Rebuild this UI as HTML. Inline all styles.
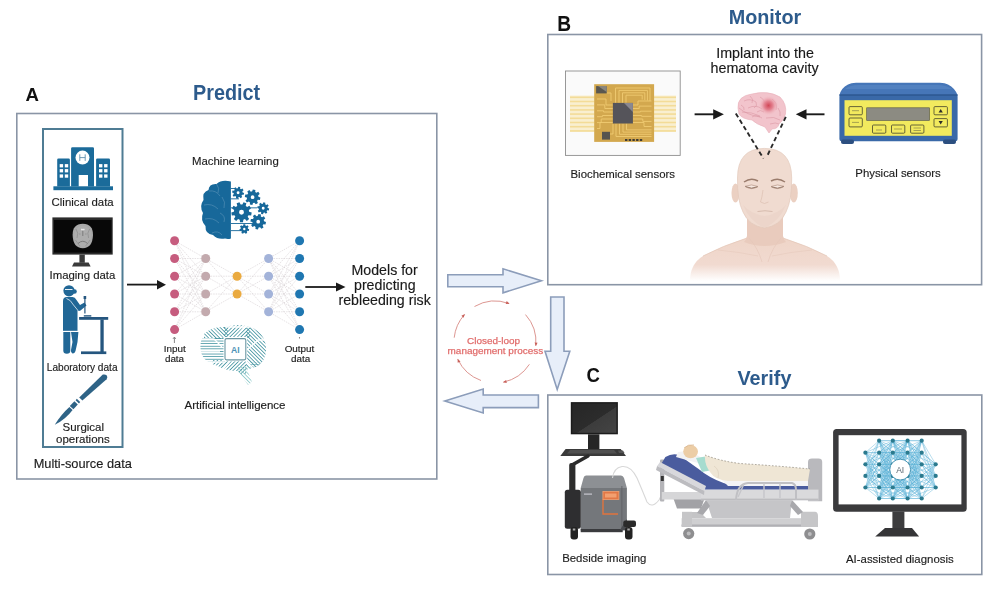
<!DOCTYPE html>
<html><head><meta charset="utf-8">
<style>
html,body{margin:0;padding:0;background:#fff;width:1000px;height:592px;overflow:hidden}
svg{display:block;filter:blur(0.3px);font-family:"Liberation Sans",sans-serif}
.lb{fill:#1c1c1c;stroke:#1c1c1c;stroke-width:0.15px;font-size:11.4px}
.tt{fill:#2d5b8c;font-weight:bold;font-size:19.8px}
.lt{fill:#111;font-weight:bold;font-size:18.6px}
</style></head><body>
<svg width="1000" height="592" viewBox="0 0 1000 592">
<!-- ===== frames ===== -->
<g fill="#fff" stroke="#8a95a6" stroke-width="1.6">
  <rect x="16.8" y="113.5" width="420" height="365.5"/>
  <rect x="547.8" y="34.5" width="433.8" height="250.2"/>
  <rect x="547.8" y="395" width="434" height="179.5"/>
</g>
<!-- inner multi-source box -->
<rect x="43" y="129" width="79.5" height="318" fill="none" stroke="#4f7c94" stroke-width="2"/>

<!-- ===== letters & titles ===== -->
<text class="lt" transform="translate(25.5 101) scale(1 1.03)">A</text>
<text class="lt" transform="translate(557.2 30.6) scale(1.03 1.14)">B</text>
<text class="lt" transform="translate(586.5 381.9) scale(1 1.11)">C</text>
<text class="tt" transform="translate(193 99.6) scale(1 1.07)">Predict</text>
<text class="tt" transform="translate(728.7 23.7) scale(1 1.05)">Monitor</text>
<text class="tt" transform="translate(737.5 384.9) scale(1 1.03)">Verify</text>

<!-- ===== labels A ===== -->
<text class="lb" x="51.6" y="206">Clinical data</text>
<text class="lb" x="49.5" y="279.1">Imaging data</text>
<text class="lb" x="46.8" y="371.2" style="font-size:10.1px">Laboratory data</text>
<text class="lb" x="62.5" y="431.3" style="font-size:11.5px">Surgical</text>
<text class="lb" x="56" y="442.5" style="font-size:11.5px">operations</text>
<text class="lb" x="33.7" y="467.6" style="font-size:12.8px">Multi-source data</text>
<text class="lb" x="192" y="165">Machine learning</text>
<text class="lb" x="184.5" y="408.7" style="font-size:11.5px">Artificial intelligence</text>
<text class="lb" x="351.5" y="275.2" style="font-size:14.2px;fill:#1a1a1a">Models for</text>
<text class="lb" x="354" y="290" style="font-size:14.2px;fill:#1a1a1a">predicting</text>
<text class="lb" x="338.5" y="304.7" style="font-size:14.2px;fill:#1a1a1a">rebleeding risk</text>
<text class="lb" x="163.7" y="351.6" style="font-size:9.9px">Input</text>
<text class="lb" x="164.9" y="362.4" style="font-size:9.9px">data</text>
<text class="lb" x="284.7" y="351.6" style="font-size:9.9px">Output</text>
<text class="lb" x="291" y="362.2" style="font-size:9.9px">data</text>

<!-- ===== labels B ===== -->
<text class="lb" x="570.5" y="178">Biochemical sensors</text>
<text class="lb" x="855.3" y="177.4">Physical sensors</text>
<text class="lb" x="716.2" y="57.8" style="font-size:14.3px;fill:#1a1a1a">Implant into the</text>
<text class="lb" x="710.5" y="72.6" style="font-size:14.3px;fill:#1a1a1a">hematoma cavity</text>

<!-- ===== labels C ===== -->
<text class="lb" x="562.2" y="562">Bedside imaging</text>
<text class="lb" x="846" y="563.4">AI-assisted diagnosis</text>

<!-- closed loop text -->
<text x="467" y="344" style="font-size:9.95px;fill:#de6060;stroke:#e47a78;stroke-width:0.25">Closed-loop</text>
<text x="447.6" y="354.4" style="font-size:9.95px;fill:#de6060;stroke:#e47a78;stroke-width:0.25">management process</text>

<!-- ===== big hollow arrows ===== -->
<g fill="#e7eef9" stroke="#8c9dba" stroke-width="1.6" stroke-linejoin="miter">
  <path d="M447.8 274.8 H503 V268.8 L541.4 280.8 L503 292.8 V286.8 H447.8 Z"/>
  <path d="M550.7 297 H564 V351.3 H569.8 L557.2 389.4 L545 351.3 H550.7 Z"/>
  <path d="M538.4 395 H483.2 V389 L444.8 401 L483.2 413 V407.6 H538.4 Z"/>
</g>

<!-- ===== black arrows ===== -->
<g fill="#1a1a1a" stroke="#1a1a1a">
  <line x1="127" y1="284.6" x2="158" y2="284.6" stroke-width="1.8"/>
  <path d="M157 280 L166 284.7 L157 289.4 Z" stroke="none"/>
  <line x1="305.3" y1="287" x2="337" y2="287" stroke-width="1.8"/>
  <path d="M336 282.5 L345.5 287 L336 291.5 Z" stroke="none"/>
  <line x1="694.6" y1="114.3" x2="715" y2="114.3" stroke-width="1.9"/>
  <path d="M713.2 109.2 L723.9 114.3 L713.2 119.4 Z" stroke="none"/>
  <line x1="805" y1="114.3" x2="824.5" y2="114.3" stroke-width="1.9"/>
  <path d="M806.5 109.2 L795.8 114.3 L806.5 119.4 Z" stroke="none"/>
</g>


<!-- ===== PANEL A ICONS ===== -->
<!-- hospital -->
<g fill="#1b6b9a">
  <path d="M57.2 186.5 V159.8 Q57.2 158.5 58.5 158.5 H68.6 Q69.9 158.5 69.9 159.8 V186.5 Z"/>
  <path d="M71.1 186.5 V148.5 Q71.1 147.2 72.4 147.2 H92.7 Q94 147.2 94 148.5 V186.5 Z M78.7 186.5 H88 V175 H78.7 Z" fill-rule="evenodd"/>
  <path d="M96.1 186.5 V159.8 Q96.1 158.5 97.4 158.5 H108.7 Q110 158.5 110 159.8 V186.5 Z"/>
  <rect x="53.4" y="186.3" width="59.6" height="3.9"/>
</g>
<g fill="#fff">
  <circle cx="82.5" cy="157.6" r="7"/>
  <rect x="59.7" y="164.1" width="3.4" height="3.3"/><rect x="64.8" y="164.1" width="3.4" height="3.3"/>
  <rect x="59.7" y="169.1" width="3.4" height="3.3"/><rect x="64.8" y="169.1" width="3.4" height="3.3"/>
  <rect x="59.7" y="174.4" width="3.4" height="3.3"/><rect x="64.8" y="174.4" width="3.4" height="3.3"/>
  <rect x="99" y="164.1" width="3.4" height="3.3"/><rect x="104.1" y="164.1" width="3.4" height="3.3"/>
  <rect x="99" y="169.1" width="3.4" height="3.3"/><rect x="104.1" y="169.1" width="3.4" height="3.3"/>
  <rect x="99" y="174.4" width="3.4" height="3.3"/><rect x="104.1" y="174.4" width="3.4" height="3.3"/>
</g>
<path d="M79.8 154.3 V160.9 M85.2 154.3 V160.9 M79.8 157.6 H85.2" stroke="#5f8fae" stroke-width="0.9" fill="none"/>

<!-- imaging monitor -->
<rect x="52.4" y="217.4" width="60.3" height="37.2" fill="#2b2b2b"/>
<rect x="54" y="220" width="57.5" height="32.6" fill="#080808"/>
<path d="M79.4 254.6 H84.8 V262.8 H79.4 Z" fill="#3a3a3a"/>
<path d="M74 262.4 H88.6 L90.6 266.4 H72 Z" fill="#3a3a3a"/>
<path d="M82.8 223.8 Q93.2 224 93 235 Q92.5 248.2 82.8 248.2 Q73.1 248.2 72.6 235 Q72.4 224 82.8 223.8 Z" fill="#a8a8a8"/>
<ellipse cx="82.8" cy="236" rx="8.6" ry="10.6" fill="#b0b0b0" opacity="0.6"/>
<path d="M82.8 228 V236 M78 243.5 Q82.8 239 87.6 243.5" stroke="#6e6e6e" stroke-width="0.8" fill="none"/>
<ellipse cx="82.8" cy="229.5" rx="2" ry="1" fill="#e8e8e8"/>
<path d="M76 229 Q79 233 77 238 M89.6 229 Q86.6 233 88.6 238 M75.5 240 Q78 244 80 246 M90 240 Q87.5 244 85.5 246 M79 234 H80.5 M85 234 H86.6" stroke="#7c7c7c" stroke-width="0.5" fill="none"/>


<!-- lab person -->
<g fill="#216796">
  <circle cx="69" cy="290.8" r="5.6"/>
  <circle cx="74.6" cy="291.5" r="2.2"/>
  <path d="M63 331 V301 Q63 297 67 297 H72.5 Q75 297 76.5 300 L80 305 L84.5 302.5 L86.5 305.5 L80.5 310.5 Q78.5 311.5 77.5 310 V331 Z"/>
  <path d="M63.3 332 H70.3 V350.5 Q70.3 353.8 66.8 353.8 Q63.3 353.8 63.3 350.5 Z"/>
  <path d="M71 332 H78.4 L77.5 342 L75.5 351 Q74.8 353.8 72.5 353.4 Q70.5 352.8 71 350 L72.5 342 Z"/>
</g>
<path d="M65 289.5 H72.5" stroke="#fff" stroke-width="0.9"/>
<path d="M66.5 298.5 Q70.5 299.5 73.5 305 L78 310.5" stroke="#e6eff5" stroke-width="0.8" fill="none"/>
<path d="M63 331.3 H78" stroke="#fff" stroke-width="0.9"/>
<g fill="#25567f">
  <rect x="84.3" y="298" width="1.2" height="15.5"/>
  <rect x="83.6" y="296" width="2.6" height="3"/>
  <rect x="83.8" y="315.2" width="7.5" height="1.4"/>
  <rect x="79.1" y="317" width="29.1" height="2.8"/>
  <rect x="100.4" y="319.5" width="3.3" height="33"/>
  <rect x="81" y="351.4" width="25.3" height="2.7"/>
</g>

<!-- scalpel -->
<g fill="#2e6386" stroke="none">
  <path d="M102.8 374.6 Q105.2 373.9 106.8 375.5 Q108 377.4 106.6 379.2 L82.4 400.6 L79.2 397.6 Z"/>
  <path d="M80.2 402 L76.8 398.8 L75.6 400.2 L79 403.4 Z"/>
  <path d="M77.8 404.4 L74.4 401.2 L69.8 406 L73.4 409.2 Z"/>
  <path d="M72.6 410 L69.4 407 Q61 414.5 54.8 424.8 Q65.5 419.5 72.6 410 Z"/>
</g>

<!-- brain + gears -->
<g fill="#17689a">
  <path d="M230.9 181.6 Q222 179 216.5 184 Q209 183.5 208.5 190 Q202 192 203.5 200 Q199 206 203 213 Q200 220 205.5 226 Q205 234 213 235 Q218 240 225 238.5 Q228 239.5 230.9 238.4 Z"/>
  <rect x="231" y="198.4" width="8" height="0.9"/>
  <rect x="231" y="207.4" width="26" height="0.9"/>
  <rect x="231" y="223" width="22" height="0.9"/>
  <rect x="231" y="230.2" width="10" height="0.9"/>
  <rect x="231" y="188" width="4" height="0.9"/>
</g>
<g fill="#17689a" fill-rule="evenodd">
<path d="M242.59 192.38 L244.10 192.89 L243.71 194.82 L242.13 194.71 L241.50 195.65 L242.21 197.07 L240.57 198.17 L239.52 196.97 L238.42 197.19 L237.91 198.70 L235.98 198.31 L236.09 196.73 L235.15 196.10 L233.73 196.81 L232.63 195.17 L233.83 194.12 L233.61 193.02 L232.10 192.51 L232.49 190.58 L234.07 190.69 L234.70 189.75 L233.99 188.33 L235.63 187.23 L236.68 188.43 L237.78 188.21 L238.29 186.70 L240.22 187.09 L240.11 188.67 L241.05 189.30 L242.47 188.59 L243.57 190.23 L242.37 191.28 Z M239.54 192.70 A1.44 1.44 0 1 0 236.66 192.70 A1.44 1.44 0 1 0 239.54 192.70 Z"/>
<path d="M258.44 196.79 L260.40 197.45 L259.90 199.96 L257.83 199.81 L257.02 201.03 L257.94 202.89 L255.81 204.31 L254.45 202.75 L253.01 203.04 L252.35 205.00 L249.84 204.50 L249.99 202.43 L248.77 201.62 L246.91 202.54 L245.49 200.41 L247.05 199.05 L246.76 197.61 L244.80 196.95 L245.30 194.44 L247.37 194.59 L248.18 193.37 L247.26 191.51 L249.39 190.09 L250.75 191.65 L252.19 191.36 L252.85 189.40 L255.36 189.90 L255.21 191.97 L256.43 192.78 L258.29 191.86 L259.71 193.99 L258.15 195.35 Z M254.47 197.20 A1.87 1.87 0 1 0 250.73 197.20 A1.87 1.87 0 1 0 254.47 197.20 Z"/>
<path d="M249.13 211.72 L251.70 212.48 L251.18 215.42 L248.51 215.26 L247.66 216.74 L249.13 218.97 L246.84 220.89 L244.90 219.05 L243.30 219.64 L242.99 222.29 L240.01 222.29 L239.70 219.64 L238.10 219.05 L236.16 220.89 L233.87 218.97 L235.34 216.74 L234.49 215.26 L231.82 215.42 L231.30 212.48 L233.87 211.72 L234.16 210.04 L232.02 208.45 L233.51 205.86 L235.96 206.92 L237.27 205.83 L236.65 203.23 L239.45 202.21 L240.65 204.60 L242.35 204.60 L243.55 202.21 L246.35 203.23 L245.73 205.83 L247.04 206.92 L249.49 205.86 L250.98 208.45 L248.84 210.04 Z M243.95 212.20 A2.45 2.45 0 1 0 239.05 212.20 A2.45 2.45 0 1 0 243.95 212.20 Z"/>
<path d="M267.69 207.98 L269.20 208.49 L268.81 210.42 L267.23 210.31 L266.60 211.25 L267.31 212.67 L265.67 213.77 L264.62 212.57 L263.52 212.79 L263.01 214.30 L261.08 213.91 L261.19 212.33 L260.25 211.70 L258.83 212.41 L257.73 210.77 L258.93 209.72 L258.71 208.62 L257.20 208.11 L257.59 206.18 L259.17 206.29 L259.80 205.35 L259.09 203.93 L260.73 202.83 L261.78 204.03 L262.88 203.81 L263.39 202.30 L265.32 202.69 L265.21 204.27 L266.15 204.90 L267.57 204.19 L268.67 205.83 L267.47 206.88 Z M264.64 208.30 A1.44 1.44 0 1 0 261.76 208.30 A1.44 1.44 0 1 0 264.64 208.30 Z"/>
<path d="M264.04 221.29 L266.00 221.95 L265.50 224.46 L263.43 224.31 L262.62 225.53 L263.54 227.39 L261.41 228.81 L260.05 227.25 L258.61 227.54 L257.95 229.50 L255.44 229.00 L255.59 226.93 L254.37 226.12 L252.51 227.04 L251.09 224.91 L252.65 223.55 L252.36 222.11 L250.40 221.45 L250.90 218.94 L252.97 219.09 L253.78 217.87 L252.86 216.01 L254.99 214.59 L256.35 216.15 L257.79 215.86 L258.45 213.90 L260.96 214.40 L260.81 216.47 L262.03 217.28 L263.89 216.36 L265.31 218.49 L263.75 219.85 Z M260.07 221.70 A1.87 1.87 0 1 0 256.33 221.70 A1.87 1.87 0 1 0 260.07 221.70 Z"/>
<path d="M247.96 228.70 L249.20 229.18 L248.79 230.97 L247.47 230.86 L246.82 231.68 L247.22 232.94 L245.56 233.73 L244.83 232.64 L243.77 232.64 L243.04 233.73 L241.38 232.94 L241.78 231.68 L241.13 230.86 L239.81 230.97 L239.40 229.18 L240.64 228.70 L240.87 227.68 L239.96 226.72 L241.11 225.28 L242.25 225.95 L243.20 225.49 L243.38 224.19 L245.22 224.19 L245.40 225.49 L246.35 225.95 L247.49 225.28 L248.64 226.72 L247.73 227.68 Z M245.48 229.00 A1.18 1.18 0 1 0 243.12 229.00 A1.18 1.18 0 1 0 245.48 229.00 Z"/>
</g>
<path d="M209 191 Q216 190 220 196 M204 205 Q212 203 218 209 M205 219 Q213 217 219 223 M216.5 184 Q220 188 218 193 M212 233 Q218 230 222 235 M222 197 Q226 202 224 208 M220 213 Q226 216 224 222" stroke="#5a94b8" stroke-width="0.6" fill="none"/>


<!-- neural network -->
<path d="M174.6 240.8 L205.7 258.5 M174.6 240.8 L205.7 276.2 M174.6 240.8 L205.7 294.0 M174.6 240.8 L205.7 311.8 M174.6 258.5 L205.7 258.5 M174.6 258.5 L205.7 276.2 M174.6 258.5 L205.7 294.0 M174.6 258.5 L205.7 311.8 M174.6 276.2 L205.7 258.5 M174.6 276.2 L205.7 276.2 M174.6 276.2 L205.7 294.0 M174.6 276.2 L205.7 311.8 M174.6 294.0 L205.7 258.5 M174.6 294.0 L205.7 276.2 M174.6 294.0 L205.7 294.0 M174.6 294.0 L205.7 311.8 M174.6 311.8 L205.7 258.5 M174.6 311.8 L205.7 276.2 M174.6 311.8 L205.7 294.0 M174.6 311.8 L205.7 311.8 M174.6 329.6 L205.7 258.5 M174.6 329.6 L205.7 276.2 M174.6 329.6 L205.7 294.0 M174.6 329.6 L205.7 311.8 M205.7 258.5 L237.1 276.2 M205.7 258.5 L237.1 294.0 M205.7 276.2 L237.1 276.2 M205.7 276.2 L237.1 294.0 M205.7 294.0 L237.1 276.2 M205.7 294.0 L237.1 294.0 M205.7 311.8 L237.1 276.2 M205.7 311.8 L237.1 294.0 M237.1 276.2 L268.6 258.5 M237.1 276.2 L268.6 276.2 M237.1 276.2 L268.6 294.0 M237.1 276.2 L268.6 311.8 M237.1 294.0 L268.6 258.5 M237.1 294.0 L268.6 276.2 M237.1 294.0 L268.6 294.0 M237.1 294.0 L268.6 311.8 M268.6 258.5 L299.6 240.8 M268.6 258.5 L299.6 258.5 M268.6 258.5 L299.6 276.2 M268.6 258.5 L299.6 294.0 M268.6 258.5 L299.6 311.8 M268.6 258.5 L299.6 329.6 M268.6 276.2 L299.6 240.8 M268.6 276.2 L299.6 258.5 M268.6 276.2 L299.6 276.2 M268.6 276.2 L299.6 294.0 M268.6 276.2 L299.6 311.8 M268.6 276.2 L299.6 329.6 M268.6 294.0 L299.6 240.8 M268.6 294.0 L299.6 258.5 M268.6 294.0 L299.6 276.2 M268.6 294.0 L299.6 294.0 M268.6 294.0 L299.6 311.8 M268.6 294.0 L299.6 329.6 M268.6 311.8 L299.6 240.8 M268.6 311.8 L299.6 258.5 M268.6 311.8 L299.6 276.2 M268.6 311.8 L299.6 294.0 M268.6 311.8 L299.6 311.8 M268.6 311.8 L299.6 329.6" stroke="#d2cccf" stroke-width="0.6" stroke-dasharray="1.5 1" fill="none" opacity="0.95"/>
<circle cx="174.6" cy="240.8" r="4.5" fill="#c65c7e"/><circle cx="174.6" cy="258.5" r="4.5" fill="#c65c7e"/><circle cx="174.6" cy="276.2" r="4.5" fill="#c65c7e"/><circle cx="174.6" cy="294.0" r="4.5" fill="#c65c7e"/><circle cx="174.6" cy="311.8" r="4.5" fill="#c65c7e"/><circle cx="174.6" cy="329.6" r="4.5" fill="#c65c7e"/><circle cx="205.7" cy="258.5" r="4.5" fill="#c3aaae"/><circle cx="205.7" cy="276.2" r="4.5" fill="#c3aaae"/><circle cx="205.7" cy="294.0" r="4.5" fill="#c3aaae"/><circle cx="205.7" cy="311.8" r="4.5" fill="#c3aaae"/><circle cx="237.1" cy="276.2" r="4.5" fill="#eaaa40"/><circle cx="237.1" cy="294.0" r="4.5" fill="#eaaa40"/><circle cx="268.6" cy="258.5" r="4.5" fill="#a3b3d9"/><circle cx="268.6" cy="276.2" r="4.5" fill="#a3b3d9"/><circle cx="268.6" cy="294.0" r="4.5" fill="#a3b3d9"/><circle cx="268.6" cy="311.8" r="4.5" fill="#a3b3d9"/><circle cx="299.6" cy="240.8" r="4.5" fill="#1f77b1"/><circle cx="299.6" cy="258.5" r="4.5" fill="#1f77b1"/><circle cx="299.6" cy="276.2" r="4.5" fill="#1f77b1"/><circle cx="299.6" cy="294.0" r="4.5" fill="#1f77b1"/><circle cx="299.6" cy="311.8" r="4.5" fill="#1f77b1"/><circle cx="299.6" cy="329.6" r="4.5" fill="#1f77b1"/>
<path d="M174.4 337.5 V343" stroke="#555" stroke-width="0.7"/><path d="M172.9 339 L174.4 337 L175.9 339" stroke="#555" stroke-width="0.6" fill="none"/>
<circle cx="299.5" cy="337.8" r="0.6" fill="#444"/>


<!-- AI brain -->
<defs>
  <pattern id="pd1" width="2.6" height="2.6" patternUnits="userSpaceOnUse" patternTransform="rotate(45)">
    <rect x="0" y="0" width="2.6" height="0.8" fill="#3f919f"/>
  </pattern>
  <pattern id="pd2" width="2.6" height="2.6" patternUnits="userSpaceOnUse" patternTransform="rotate(-45)">
    <rect x="0" y="0" width="2.6" height="0.8" fill="#3f919f"/>
  </pattern>
  <pattern id="ph" width="2.6" height="2.6" patternUnits="userSpaceOnUse">
    <rect x="0" y="0" width="2.6" height="0.8" fill="#3f919f"/>
  </pattern>
  <pattern id="pd3" width="2.6" height="2.6" patternUnits="userSpaceOnUse" patternTransform="rotate(45)">
    <rect x="0" y="0" width="2.6" height="0.8" fill="#8cc9c9"/>
  </pattern>
  <clipPath id="brainclip">
    <path d="M204 334 Q212 326 226 327 Q238 323 250 327 Q262 331 265 342 Q268 352 263 361 Q258 368 247 369 L252 382 L248 385 L238 371 Q226 371 218 366 Q206 363 202 355 Q198 345 204 334 Z"/>
  </clipPath>
</defs>
<g clip-path="url(#brainclip)">
  <rect x="198" y="338" width="26" height="24" fill="url(#ph)"/>
  <rect x="204" y="325" width="24" height="14" fill="url(#pd1)"/>
  <rect x="224" y="322" width="26" height="16" fill="url(#pd2)"/>
  <rect x="246" y="326" width="22" height="44" fill="url(#pd1)"/>
  <rect x="212" y="360" width="34" height="14" fill="url(#pd2)"/>
  <rect x="238" y="366" width="16" height="20" fill="url(#pd3)"/>
  <rect x="250" y="362" width="16" height="8" fill="url(#ph)" opacity="0.6"/>
</g>
<path d="M200 339 H214 L222 347 M204 362 H224 M222 338 L210 326 M236 337 L246 325 M247 350 L258 340 H268 M230 361 L220 373 M246 361 L254 369 H268 M226 327 H250 M200 351 H220" stroke="#fff" stroke-width="1.3" fill="none"/>
<rect x="223.5" y="337" width="23.7" height="24.4" fill="#fff"/>
<rect x="225" y="338.6" width="20.8" height="21.3" rx="1.6" fill="#fff" stroke="#6a96a2" stroke-width="1.1"/>
<text x="235.4" y="353" text-anchor="middle" style="font-size:8.6px;font-weight:bold;fill:#4d93b8">AI</text>


<!-- biochemical sensor chip -->
<rect x="565.5" y="71" width="114.7" height="84.4" fill="#fafafa" stroke="#8e8e8e" stroke-width="0.9"/>
<rect x="570" y="95.5" width="106" height="36.5" fill="#f9efd0"/>
<rect x="570" y="96.5" width="24.5" height="1.6" fill="#f3dc98"/><rect x="654" y="96.5" width="22" height="1.6" fill="#f3dc98"/><rect x="570" y="100.7" width="24.5" height="1.6" fill="#f3dc98"/><rect x="654" y="100.7" width="22" height="1.6" fill="#f3dc98"/><rect x="570" y="104.9" width="24.5" height="1.6" fill="#f3dc98"/><rect x="654" y="104.9" width="22" height="1.6" fill="#f3dc98"/><rect x="570" y="109.1" width="24.5" height="1.6" fill="#f3dc98"/><rect x="654" y="109.1" width="22" height="1.6" fill="#f3dc98"/><rect x="570" y="113.3" width="24.5" height="1.6" fill="#f3dc98"/><rect x="654" y="113.3" width="22" height="1.6" fill="#f3dc98"/><rect x="570" y="117.5" width="24.5" height="1.6" fill="#f3dc98"/><rect x="654" y="117.5" width="22" height="1.6" fill="#f3dc98"/><rect x="570" y="121.7" width="24.5" height="1.6" fill="#f3dc98"/><rect x="654" y="121.7" width="22" height="1.6" fill="#f3dc98"/><rect x="570" y="125.9" width="24.5" height="1.6" fill="#f3dc98"/><rect x="654" y="125.9" width="22" height="1.6" fill="#f3dc98"/><rect x="570" y="130.1" width="24.5" height="1.6" fill="#f3dc98"/><rect x="654" y="130.1" width="22" height="1.6" fill="#f3dc98"/>
<rect x="594.2" y="84.2" width="59.9" height="57.7" fill="#d3a84e"/>
<path d="M612.9 105 H606.0 V99.0 H597 M612.9 108.5 H604.8 V104.9 H597 M612.9 112 H603.6 V110.8 H597 M612.9 115.5 H602.4 V116.7 H597 M612.9 119 H601.2 V122.6 H597 M612.9 122.5 H600.0 V128.5 H597 M632.9 105 H638.0 V101.0 H651.5 M632.9 108.5 H639.2 V106.1 H651.5 M632.9 112 H640.4 V111.2 H651.5 M632.9 115.5 H641.6 V116.3 H651.5 M632.9 119 H642.8 V121.4 H651.5 M632.9 122.5 H644.0 V126.5 H651.5 M615.5 102.9 V88.0 H650.0 V101.0 M619 102.9 V90.4 H647.4 V100.5 M622.5 102.9 V92.8 H644.8 V100.0 M626 102.9 V95.2 H642.2 V99.5 M616 123.5 V136.5 H651.5 M619.5 123.5 V134.3 H651.5 M623 123.5 V132.1 H651.5 M626.5 123.5 V129.9 H651.5 M606.7 93 H611 V101 M610 134 H613 V124" stroke="#efcb72" stroke-width="0.9" fill="none"/>
<rect x="612.9" y="102.9" width="20" height="20.6" fill="#55545a"/>
<path d="M624 102.9 H632.9 V112 Z" fill="#8a8890"/>
<rect x="596.1" y="86.1" width="10.6" height="7.3" fill="#5a5750"/>
<path d="M598 86.1 H606.7 V92 Z" fill="#8a867c"/>
<rect x="602" y="131.8" width="8" height="7.8" fill="#55534f"/>
<g fill="#3e3a34"><rect x="625" y="139" width="2.4" height="2"/><rect x="628.7" y="139" width="2.4" height="2"/><rect x="632.4" y="139" width="2.4" height="2"/><rect x="636.1" y="139" width="2.4" height="2"/><rect x="639.8" y="139" width="2.4" height="2"/></g>


<!-- head & body -->
<defs>
  <linearGradient id="bodyfade" x1="0" y1="0" x2="0" y2="1">
    <stop offset="0" stop-color="#efd5c8"/>
    <stop offset="0.62" stop-color="#f1dad0"/>
    <stop offset="1" stop-color="#ffffff"/>
  </linearGradient>
  <radialGradient id="hematoma" cx="0.5" cy="0.5" r="0.5">
    <stop offset="0" stop-color="#d24858"/>
    <stop offset="0.45" stop-color="#e48593"/>
    <stop offset="1" stop-color="#f2c0c8" stop-opacity="0"/>
  </radialGradient>
</defs>
<path d="M690 281 Q690 264 703 256 Q722 246 747 238 L783 238 Q808 246 827 256 Q840 264 840 281 Z" fill="url(#bodyfade)"/>
<path d="M703 256 Q722 246 747 238 M783 238 Q808 246 827 256" stroke="#e3c4b5" stroke-width="0.7" fill="none"/>
<path d="M718 250 Q740 252 758 256 M772 256 Q790 252 812 250" stroke="#e6cabc" stroke-width="0.6" fill="none"/>
<path d="M747 212 V236 Q746 240 744 242 Q764 250 786 242 Q784 240 783 236 V212 Z" fill="#e9cbbd"/>
<path d="M749 238 Q758 248 762 262 M781 238 Q772 248 768 262" stroke="#e4c6b8" stroke-width="0.6" fill="none"/>
<ellipse cx="735.5" cy="193" rx="4" ry="9.5" fill="#ebd0c2"/>
<ellipse cx="793.8" cy="193" rx="4" ry="9.5" fill="#ebd0c2"/>
<path d="M764.5 148.4 Q791.5 148.4 791.7 178 Q792 200 786 212 Q780 226 764.5 228 Q749 226 743 212 Q737 200 737.5 178 Q737.6 148.4 764.5 148.4 Z" fill="#f0dbd0" stroke="#e3c8ba" stroke-width="0.7"/>
<path d="M744 182 Q751 177 758 181 M771 181 Q778 177 785 182" stroke="#9a7c6c" stroke-width="1.5" fill="none"/>
<path d="M745 186.3 Q751.5 183.5 758 186.5 Q751.5 190.8 745 186.3 Z M771 186.5 Q777.5 183.5 784 186.3 Q777.5 190.8 771 186.5 Z" fill="#f6e8e0" stroke="#b49484" stroke-width="0.7"/>
<path d="M745.5 186.6 Q751.5 189.6 757.5 186.8 M771.5 186.8 Q777.5 189.6 783.5 186.6" stroke="#8e7262" stroke-width="0.9" fill="none"/>
<path d="M743 205 Q750 222 764.5 228 Q779 222 786 205 Q778 214 764.5 216 Q751 214 743 205 Z" fill="#ead3c7" opacity="0.7"/>
<path d="M763 190 Q762 198 760.5 202 Q764.5 205 768.5 202" stroke="#dcc0b2" stroke-width="0.7" fill="none"/>
<path d="M757.5 211.5 Q765 210 772.5 211.5" stroke="#cfb2a4" stroke-width="0.8" fill="none"/>

<!-- pink brain -->
<path d="M738 108 Q737 96 752 94 Q768 90 780 97 Q787 104 785.5 114 Q784 120 779 124 Q778 129 772 129 L769 133 L765 127 Q756 124 752 120 Q742 119 739 114 Z" fill="#f2c4cc" stroke="#e8aeb9" stroke-width="0.6"/>
<path d="M744 101 Q750 98 756 102 Q758 106 754 108 M748 108 Q756 104 762 109 M742 112 Q752 112 760 116 M760 97 Q766 100 764 106 M772 99 Q778 103 776 110 M766 118 Q774 116 780 120 M770 124 Q776 122 779 124 M741 105 Q745 107 744 110 M750 96 Q754 99 752 103 M757 112 Q760 109 764 112 M778 108 Q781 112 780 116 M752 117 Q756 114 762 118 M739 108 Q747 115 760 117" stroke="#d993a0" stroke-width="0.55" fill="none"/>
<circle cx="768.5" cy="105.5" r="10" fill="url(#hematoma)"/>
<!-- dashed lines -->
<path d="M735.8 113.4 L763.5 158.6 M785.8 116.8 L766.9 156.6" stroke="#2a2a2a" stroke-width="1.9" stroke-dasharray="4.5 3" fill="none"/>


<!-- physical sensor device -->
<path d="M839.4 95.3 Q841 88 848 84.5 Q851 82.8 856 82.8 H940 Q945 82.8 948 84.5 Q955 88 957.6 95.3 Z" fill="#4676b8"/>
<path d="M845 89 Q850 85 858 85 H938 Q946 85 952 89 Z" fill="#5a88c4" opacity="0.6"/>
<rect x="839.4" y="94.3" width="118.2" height="47" rx="2.5" fill="#3a69a8"/>
<rect x="839.4" y="94.3" width="118.2" height="1.6" fill="#2f5a94"/>
<rect x="841" y="139.5" width="13" height="4.5" rx="2" fill="#2c4f80"/>
<rect x="943" y="139.5" width="13" height="4.5" rx="2" fill="#2c4f80"/>
<rect x="844.5" y="100.2" width="107.3" height="35.6" fill="#f2ea5e"/>
<rect x="866.7" y="107.8" width="62.9" height="12.7" fill="#8c8b82" stroke="#55554a" stroke-width="0.6"/>
<g fill="none" stroke="#3a3a2a" stroke-width="0.75">
  <rect x="849" y="106.6" width="13.3" height="8.2" rx="1"/>
  <rect x="849" y="118" width="13.3" height="8.9" rx="1"/>
  <rect x="934" y="106.6" width="13.4" height="8.2" rx="1"/>
  <rect x="934" y="118.6" width="13.4" height="8.3" rx="1"/>
  <rect x="872.5" y="125" width="13.3" height="8.2" rx="1"/>
  <rect x="891.5" y="125" width="13.3" height="8.2" rx="1"/>
  <rect x="910.6" y="125" width="13.3" height="8.2" rx="1"/>
</g>
<g fill="#2a2a2a">
  <path d="M938.6 112.4 L940.7 109 L942.8 112.4 Z"/>
  <path d="M938.6 121 L940.7 124.4 L942.8 121 Z"/>
</g>
<path d="M852 110.7 H859 M852 122.4 H859 M876 130 H882 M894 129 H902 M913.5 128 H921 M913.5 130.5 H921" stroke="#5a5a40" stroke-width="0.5"/>


<!-- bedside imaging cart -->
<defs>
  <linearGradient id="monsheen" x1="0" y1="0" x2="1" y2="1">
    <stop offset="0" stop-color="#262626"/>
    <stop offset="0.55" stop-color="#2c2c2c"/>
    <stop offset="0.56" stop-color="#3c3c3c"/>
    <stop offset="1" stop-color="#444"/>
  </linearGradient>
</defs>
<rect x="570.8" y="402.1" width="47.1" height="32.2" fill="#1c1c1c"/>
<rect x="572.3" y="403.6" width="44.1" height="29.2" fill="url(#monsheen)"/>
<rect x="588" y="434.3" width="11.4" height="15" fill="#262626"/>
<path d="M565.6 448.9 H620.7 L626 456 H560.3 Z" fill="#3a3a3a"/>
<path d="M570 450 H614 L617 453.5 H567 Z" fill="#505050"/>
<path d="M618 450.5 H623 L624.5 453 H619 Z" fill="#555"/>
<path d="M588 456 L572 465" stroke="#2a2a2a" stroke-width="3.5" stroke-linecap="round"/>
<rect x="569.2" y="463" width="6.2" height="30" rx="2" fill="#2c2c2c"/>
<path d="M586 475.5 H621 Q623 475.5 624 478 L626.9 488 H580.7 L583.5 478 Q584 475.5 586 475.5 Z" fill="#8d9094"/>
<rect x="580.7" y="488" width="46.2" height="42.5" fill="#74777b"/>
<rect x="621.5" y="486" width="0.8" height="44" fill="#5c5f63"/>
<rect x="564.8" y="489.7" width="16" height="39.1" rx="2.5" fill="#2e2e30"/>
<rect x="584" y="493.5" width="8" height="1.2" fill="#c8c8d0"/>
<path d="M603 499 V514 H618" stroke="#e0743e" stroke-width="1.4" fill="none"/>
<rect x="602.9" y="491.5" width="16" height="8" fill="#e27846" stroke="#f0a070" stroke-width="0.8"/>
<rect x="605" y="493.5" width="11.5" height="4" fill="#f2a070"/>
<rect x="580.7" y="529" width="42" height="3.2" fill="#3a3b3e"/>
<path d="M626.9 519 L620 530 H626.9 Z" fill="#4a4c50"/>
<rect x="570.5" y="527" width="7.5" height="12.6" rx="3" fill="#222"/>
<rect x="625" y="527" width="7.5" height="12.6" rx="3" fill="#222"/>
<rect x="572.8" y="528.5" width="2.5" height="2" fill="#aaa"/>
<rect x="627.3" y="528.5" width="2.5" height="2" fill="#aaa"/>
<rect x="623.3" y="520.5" width="12.7" height="6.5" rx="2" fill="#2a2a2a"/>
<path d="M612.5 478 Q613.5 468 622 466.5 Q631 465.5 637 478 Q643 492 647 502 Q652 509 659 500 L663 492" stroke="#d8d8d8" stroke-width="1.1" fill="none"/>


<!-- hospital bed -->
<g>
  <!-- lower frame -->
  <path d="M688 512 H700 L706 518 H682 Z" fill="#c4c4c6"/>
  <rect x="681.6" y="518.2" width="124.6" height="8.4" fill="#cfcfd1"/>
  <rect x="681.6" y="524.5" width="124.6" height="2.2" fill="#b0b0b4"/>
  <path d="M801 511.8 H815 Q818 512 818 516 V526.9 H801 Z" fill="#c6c6c8"/>
  <path d="M682 511.8 H692 V526.9 H682 Z" fill="#c6c6c8"/>
  <circle cx="688.7" cy="533.6" r="5.6" fill="#8e8e90"/><circle cx="688.7" cy="533.6" r="2" fill="#bdbdbf"/>
  <circle cx="809.8" cy="534" r="5.6" fill="#8e8e90"/><circle cx="809.8" cy="534" r="2" fill="#bdbdbf"/>
  <!-- base block -->
  <path d="M706 500 H792 L790 518 H712 Z" fill="#c5c5c8"/>
  <path d="M792 500 L803 512 L798 515 L790 506 Z" fill="#a8a8ac"/>
  <path d="M706 500 L697 513 L703 515 L710 506 Z" fill="#a8a8ac"/>
  <!-- under backrest cover -->
  <path d="M673.6 499 H704.4 L701 508.6 H677 Z" fill="#a2a2a6"/>
  <!-- headboard & footboard posts -->
  <rect x="660" y="459.5" width="4.3" height="42" rx="1" fill="#b4b4b8"/>
  <rect x="660.8" y="476" width="3" height="5" fill="#333"/>
  <path d="M808 462 Q808 458.6 812 458.6 H818.5 Q822.2 458.6 822.2 462 V501.2 H808 Z" fill="#b9b9bd"/>
  <!-- horizontal frame -->
  <rect x="661.8" y="492" width="56" height="7.5" fill="#d6d6d8"/>
  <rect x="700.9" y="489.6" width="117.6" height="10.7" fill="#dadadc"/>
  <rect x="700.9" y="498.6" width="117.6" height="1.6" fill="#bdbdc0"/>
  <!-- blue mattress -->
  <path d="M665.4 457.1 Q672 453 679 455 L700 470 Q712 480 730 485 L808 485.5 V489.6 H705 L660 466 Z" fill="#4a5c9e"/>
  <!-- backrest frame -->
  <path d="M657.1 466 L660 462 L706 486 L704.4 491 Z" fill="#d8d8dc"/>
  <path d="M657.1 466 L704.4 491 L704 495 L656 470 Z" fill="#bcbcc0"/>
  <!-- patient -->
  <path d="M678 452 Q690 450 702 458 L698 463 Q686 460 676 457 Z" fill="#f2f2f4"/>
  <ellipse cx="690.6" cy="451.6" rx="7.4" ry="6.6" fill="#eccda6"/>
  <path d="M684 448 Q688 444 694 445" stroke="#d8b48c" stroke-width="0.8" fill="none"/>
  <path d="M696 458 L708 456 L712 470 L702 472 Z" fill="#a6dccf"/>
  <path d="M722 480 H808 V486 H728 Z" fill="#f4f4f6"/>
  <path d="M705 455 Q720 461 740 463.5 Q780 466 810 469 L808 481 H728 Q715 480 710 472 Q704 464 705 455 Z" fill="#efe6d5"/>
  <path d="M705 455 Q720 461 740 463.5 Q780 466 810 469" stroke="#857f74" stroke-width="0.7" stroke-dasharray="1.6 1.8" fill="none"/>
  <path d="M714 466 Q720 470 718 478" stroke="#d8ccb8" stroke-width="0.6" fill="none"/>
  <!-- side rail -->
  <path d="M736 500 Q737 484 748 483 H792 Q796 484 796 490 V500" stroke="#c0c0c4" stroke-width="2" fill="none"/>
  <path d="M744 484 L738 497 M764 483 V498 M780 483 V498" stroke="#c6c6ca" stroke-width="1.4" fill="none"/>
</g>


<!-- AI monitor -->
<rect x="833.1" y="428.9" width="133.6" height="82.9" rx="3.5" fill="#3a3a3c"/>
<rect x="838.6" y="435.2" width="122.8" height="69.2" fill="#fff"/>
<rect x="892.4" y="511.5" width="12" height="17" fill="#3c3c3e"/>
<path d="M885 528 H912 L919.1 536.4 H875.2 Z" fill="#353537"/>
<path d="M865.4 452.7 L879.1 440.7 M865.4 452.7 L879.1 452.7 M865.4 452.7 L879.1 464.3 M865.4 452.7 L879.1 475.9 M865.4 452.7 L879.1 487.5 M865.4 452.7 L879.1 498.5 M865.4 464.3 L879.1 440.7 M865.4 464.3 L879.1 452.7 M865.4 464.3 L879.1 464.3 M865.4 464.3 L879.1 475.9 M865.4 464.3 L879.1 487.5 M865.4 464.3 L879.1 498.5 M865.4 475.9 L879.1 440.7 M865.4 475.9 L879.1 452.7 M865.4 475.9 L879.1 464.3 M865.4 475.9 L879.1 475.9 M865.4 475.9 L879.1 487.5 M865.4 475.9 L879.1 498.5 M865.4 487.5 L879.1 440.7 M865.4 487.5 L879.1 452.7 M865.4 487.5 L879.1 464.3 M865.4 487.5 L879.1 475.9 M865.4 487.5 L879.1 487.5 M865.4 487.5 L879.1 498.5 M879.1 440.7 L892.8 440.7 M879.1 440.7 L892.8 452.7 M879.1 440.7 L892.8 464.3 M879.1 440.7 L892.8 475.9 M879.1 440.7 L892.8 487.5 M879.1 440.7 L892.8 498.5 M879.1 452.7 L892.8 440.7 M879.1 452.7 L892.8 452.7 M879.1 452.7 L892.8 464.3 M879.1 452.7 L892.8 475.9 M879.1 452.7 L892.8 487.5 M879.1 452.7 L892.8 498.5 M879.1 464.3 L892.8 440.7 M879.1 464.3 L892.8 452.7 M879.1 464.3 L892.8 464.3 M879.1 464.3 L892.8 475.9 M879.1 464.3 L892.8 487.5 M879.1 464.3 L892.8 498.5 M879.1 475.9 L892.8 440.7 M879.1 475.9 L892.8 452.7 M879.1 475.9 L892.8 464.3 M879.1 475.9 L892.8 475.9 M879.1 475.9 L892.8 487.5 M879.1 475.9 L892.8 498.5 M879.1 487.5 L892.8 440.7 M879.1 487.5 L892.8 452.7 M879.1 487.5 L892.8 464.3 M879.1 487.5 L892.8 475.9 M879.1 487.5 L892.8 487.5 M879.1 487.5 L892.8 498.5 M879.1 498.5 L892.8 440.7 M879.1 498.5 L892.8 452.7 M879.1 498.5 L892.8 464.3 M879.1 498.5 L892.8 475.9 M879.1 498.5 L892.8 487.5 M879.1 498.5 L892.8 498.5 M892.8 440.7 L907.6 440.7 M892.8 440.7 L907.6 452.7 M892.8 440.7 L907.6 464.3 M892.8 440.7 L907.6 475.9 M892.8 440.7 L907.6 487.5 M892.8 440.7 L907.6 498.5 M892.8 452.7 L907.6 440.7 M892.8 452.7 L907.6 452.7 M892.8 452.7 L907.6 464.3 M892.8 452.7 L907.6 475.9 M892.8 452.7 L907.6 487.5 M892.8 452.7 L907.6 498.5 M892.8 464.3 L907.6 440.7 M892.8 464.3 L907.6 452.7 M892.8 464.3 L907.6 464.3 M892.8 464.3 L907.6 475.9 M892.8 464.3 L907.6 487.5 M892.8 464.3 L907.6 498.5 M892.8 475.9 L907.6 440.7 M892.8 475.9 L907.6 452.7 M892.8 475.9 L907.6 464.3 M892.8 475.9 L907.6 475.9 M892.8 475.9 L907.6 487.5 M892.8 475.9 L907.6 498.5 M892.8 487.5 L907.6 440.7 M892.8 487.5 L907.6 452.7 M892.8 487.5 L907.6 464.3 M892.8 487.5 L907.6 475.9 M892.8 487.5 L907.6 487.5 M892.8 487.5 L907.6 498.5 M892.8 498.5 L907.6 440.7 M892.8 498.5 L907.6 452.7 M892.8 498.5 L907.6 464.3 M892.8 498.5 L907.6 475.9 M892.8 498.5 L907.6 487.5 M892.8 498.5 L907.6 498.5 M907.6 440.7 L921.7 440.7 M907.6 440.7 L921.7 452.7 M907.6 440.7 L921.7 464.3 M907.6 440.7 L921.7 475.9 M907.6 440.7 L921.7 487.5 M907.6 440.7 L921.7 498.5 M907.6 452.7 L921.7 440.7 M907.6 452.7 L921.7 452.7 M907.6 452.7 L921.7 464.3 M907.6 452.7 L921.7 475.9 M907.6 452.7 L921.7 487.5 M907.6 452.7 L921.7 498.5 M907.6 464.3 L921.7 440.7 M907.6 464.3 L921.7 452.7 M907.6 464.3 L921.7 464.3 M907.6 464.3 L921.7 475.9 M907.6 464.3 L921.7 487.5 M907.6 464.3 L921.7 498.5 M907.6 475.9 L921.7 440.7 M907.6 475.9 L921.7 452.7 M907.6 475.9 L921.7 464.3 M907.6 475.9 L921.7 475.9 M907.6 475.9 L921.7 487.5 M907.6 475.9 L921.7 498.5 M907.6 487.5 L921.7 440.7 M907.6 487.5 L921.7 452.7 M907.6 487.5 L921.7 464.3 M907.6 487.5 L921.7 475.9 M907.6 487.5 L921.7 487.5 M907.6 487.5 L921.7 498.5 M907.6 498.5 L921.7 440.7 M907.6 498.5 L921.7 452.7 M907.6 498.5 L921.7 464.3 M907.6 498.5 L921.7 475.9 M907.6 498.5 L921.7 487.5 M907.6 498.5 L921.7 498.5 M921.7 440.7 L935.7 464.3 M921.7 440.7 L935.7 475.9 M921.7 440.7 L935.7 487.5 M921.7 452.7 L935.7 464.3 M921.7 452.7 L935.7 475.9 M921.7 452.7 L935.7 487.5 M921.7 464.3 L935.7 464.3 M921.7 464.3 L935.7 475.9 M921.7 464.3 L935.7 487.5 M921.7 475.9 L935.7 464.3 M921.7 475.9 L935.7 475.9 M921.7 475.9 L935.7 487.5 M921.7 487.5 L935.7 464.3 M921.7 487.5 L935.7 475.9 M921.7 487.5 L935.7 487.5 M921.7 498.5 L935.7 464.3 M921.7 498.5 L935.7 475.9 M921.7 498.5 L935.7 487.5 M865.4 452.7 L892.8 440.7 M865.4 452.7 L892.8 452.7 M865.4 452.7 L892.8 464.3 M865.4 452.7 L892.8 475.9 M865.4 452.7 L892.8 487.5 M865.4 452.7 L892.8 498.5 M865.4 464.3 L892.8 440.7 M865.4 464.3 L892.8 452.7 M865.4 464.3 L892.8 464.3 M865.4 464.3 L892.8 475.9 M865.4 464.3 L892.8 487.5 M865.4 464.3 L892.8 498.5 M865.4 475.9 L892.8 440.7 M865.4 475.9 L892.8 452.7 M865.4 475.9 L892.8 464.3 M865.4 475.9 L892.8 475.9 M865.4 475.9 L892.8 487.5 M865.4 475.9 L892.8 498.5 M865.4 487.5 L892.8 440.7 M865.4 487.5 L892.8 452.7 M865.4 487.5 L892.8 464.3 M865.4 487.5 L892.8 475.9 M865.4 487.5 L892.8 487.5 M865.4 487.5 L892.8 498.5 M879.1 440.7 L907.6 440.7 M879.1 440.7 L907.6 452.7 M879.1 440.7 L907.6 464.3 M879.1 440.7 L907.6 475.9 M879.1 440.7 L907.6 487.5 M879.1 440.7 L907.6 498.5 M879.1 452.7 L907.6 440.7 M879.1 452.7 L907.6 452.7 M879.1 452.7 L907.6 464.3 M879.1 452.7 L907.6 475.9 M879.1 452.7 L907.6 487.5 M879.1 452.7 L907.6 498.5 M879.1 464.3 L907.6 440.7 M879.1 464.3 L907.6 452.7 M879.1 464.3 L907.6 464.3 M879.1 464.3 L907.6 475.9 M879.1 464.3 L907.6 487.5 M879.1 464.3 L907.6 498.5 M879.1 475.9 L907.6 440.7 M879.1 475.9 L907.6 452.7 M879.1 475.9 L907.6 464.3 M879.1 475.9 L907.6 475.9 M879.1 475.9 L907.6 487.5 M879.1 475.9 L907.6 498.5 M879.1 487.5 L907.6 440.7 M879.1 487.5 L907.6 452.7 M879.1 487.5 L907.6 464.3 M879.1 487.5 L907.6 475.9 M879.1 487.5 L907.6 487.5 M879.1 487.5 L907.6 498.5 M879.1 498.5 L907.6 440.7 M879.1 498.5 L907.6 452.7 M879.1 498.5 L907.6 464.3 M879.1 498.5 L907.6 475.9 M879.1 498.5 L907.6 487.5 M879.1 498.5 L907.6 498.5 M892.8 440.7 L921.7 440.7 M892.8 440.7 L921.7 452.7 M892.8 440.7 L921.7 464.3 M892.8 440.7 L921.7 475.9 M892.8 440.7 L921.7 487.5 M892.8 440.7 L921.7 498.5 M892.8 452.7 L921.7 440.7 M892.8 452.7 L921.7 452.7 M892.8 452.7 L921.7 464.3 M892.8 452.7 L921.7 475.9 M892.8 452.7 L921.7 487.5 M892.8 452.7 L921.7 498.5 M892.8 464.3 L921.7 440.7 M892.8 464.3 L921.7 452.7 M892.8 464.3 L921.7 464.3 M892.8 464.3 L921.7 475.9 M892.8 464.3 L921.7 487.5 M892.8 464.3 L921.7 498.5 M892.8 475.9 L921.7 440.7 M892.8 475.9 L921.7 452.7 M892.8 475.9 L921.7 464.3 M892.8 475.9 L921.7 475.9 M892.8 475.9 L921.7 487.5 M892.8 475.9 L921.7 498.5 M892.8 487.5 L921.7 440.7 M892.8 487.5 L921.7 452.7 M892.8 487.5 L921.7 464.3 M892.8 487.5 L921.7 475.9 M892.8 487.5 L921.7 487.5 M892.8 487.5 L921.7 498.5 M892.8 498.5 L921.7 440.7 M892.8 498.5 L921.7 452.7 M892.8 498.5 L921.7 464.3 M892.8 498.5 L921.7 475.9 M892.8 498.5 L921.7 487.5 M892.8 498.5 L921.7 498.5 M907.6 440.7 L935.7 464.3 M907.6 440.7 L935.7 475.9 M907.6 440.7 L935.7 487.5 M907.6 452.7 L935.7 464.3 M907.6 452.7 L935.7 475.9 M907.6 452.7 L935.7 487.5 M907.6 464.3 L935.7 464.3 M907.6 464.3 L935.7 475.9 M907.6 464.3 L935.7 487.5 M907.6 475.9 L935.7 464.3 M907.6 475.9 L935.7 475.9 M907.6 475.9 L935.7 487.5 M907.6 487.5 L935.7 464.3 M907.6 487.5 L935.7 475.9 M907.6 487.5 L935.7 487.5 M907.6 498.5 L935.7 464.3 M907.6 498.5 L935.7 475.9 M907.6 498.5 L935.7 487.5" stroke="#5ab2d8" stroke-width="0.5" fill="none" opacity="0.85"/>
<g fill="#2b7a8e"><circle cx="865.4" cy="452.7" r="2.1"/><circle cx="865.4" cy="464.3" r="2.1"/><circle cx="865.4" cy="475.9" r="2.1"/><circle cx="865.4" cy="487.5" r="2.1"/><circle cx="879.1" cy="440.7" r="2.1"/><circle cx="879.1" cy="452.7" r="2.1"/><circle cx="879.1" cy="464.3" r="2.1"/><circle cx="879.1" cy="475.9" r="2.1"/><circle cx="879.1" cy="487.5" r="2.1"/><circle cx="879.1" cy="498.5" r="2.1"/><circle cx="892.8" cy="440.7" r="2.1"/><circle cx="892.8" cy="452.7" r="2.1"/><circle cx="892.8" cy="464.3" r="2.1"/><circle cx="892.8" cy="475.9" r="2.1"/><circle cx="892.8" cy="487.5" r="2.1"/><circle cx="892.8" cy="498.5" r="2.1"/><circle cx="907.6" cy="440.7" r="2.1"/><circle cx="907.6" cy="452.7" r="2.1"/><circle cx="907.6" cy="464.3" r="2.1"/><circle cx="907.6" cy="475.9" r="2.1"/><circle cx="907.6" cy="487.5" r="2.1"/><circle cx="907.6" cy="498.5" r="2.1"/><circle cx="921.7" cy="440.7" r="2.1"/><circle cx="921.7" cy="452.7" r="2.1"/><circle cx="921.7" cy="464.3" r="2.1"/><circle cx="921.7" cy="475.9" r="2.1"/><circle cx="921.7" cy="487.5" r="2.1"/><circle cx="921.7" cy="498.5" r="2.1"/><circle cx="935.7" cy="464.3" r="2.1"/><circle cx="935.7" cy="475.9" r="2.1"/><circle cx="935.7" cy="487.5" r="2.1"/></g>
<circle cx="900.2" cy="469.6" r="10.4" fill="#fff" stroke="#3f8fb0" stroke-width="0.9"/>
<text x="900.2" y="472.8" text-anchor="middle" style="font-size:8.5px;fill:#5a6670">AI</text>


<!-- closed loop arcs -->
<path d="M474.5 306.5 A41.0 41.0 0 0 1 509.0 303.5 M525.5 314.6 A41.0 41.0 0 0 1 535.8 345.6 M529.4 364.3 A41.0 41.0 0 0 1 503.5 382.1 M481.0 380.5 A41.0 41.0 0 0 1 457.8 359.3 M454.2 337.7 A41.0 41.0 0 0 1 464.5 314.6" stroke="#d88a84" stroke-width="0.9" fill="none"/>
<path d="M509.6 303.7 L505.7 303.9 L506.7 301.0 Z M535.8 346.2 L534.6 342.5 L537.6 342.7 Z M502.9 382.2 L506.1 380.0 L506.8 382.9 Z M457.6 358.8 L460.5 361.4 L457.7 362.7 Z M464.9 314.1 L463.6 317.8 L461.4 315.8 Z" fill="#c8605a"/>

</svg>
</body></html>
